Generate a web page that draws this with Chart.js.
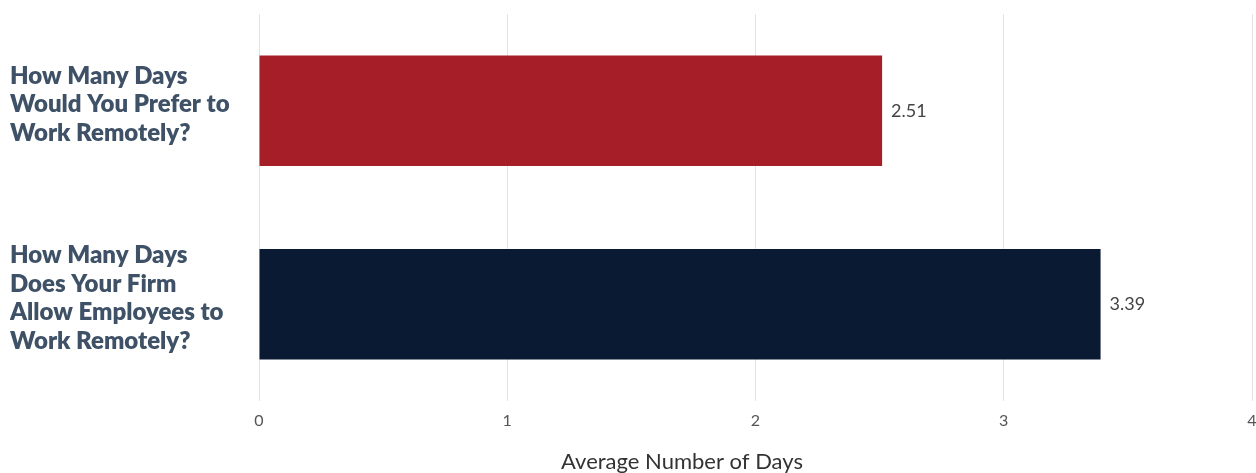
<!DOCTYPE html>
<html>
<head>
<meta charset="utf-8">
<script src="https://cdn.jsdelivr.net/npm/chart.js@4/dist/chart.umd.min.js"></script>
<style>
  html, body { margin: 0; padding: 0; background: #fff; overflow: hidden; }
  #wrap { position: relative; width: 1256px; height: 473px; }
</style>
</head>
<body>
<div id="wrap"><canvas id="daysChart"></canvas></div>
<script>
const questions = [
  ['How Many Days', 'Would You Prefer to', 'Work Remotely?'],
  ['How Many Days', 'Does Your Firm', 'Allow Employees to', 'Work Remotely?']
];
const avgDays = [2.51, 3.39];
const barColors = ['#a61e28', '#0b1a33'];
const xTicks = [0, 1, 2, 3, 4];
const xTitle = 'Average Number of Days';

// bar values past the bar ends, plus the x axis caption under the ticks
const valueLabels = {
  id: 'valueLabels',
  afterDatasetsDraw(chart) {
    const { ctx } = chart;
    const meta = chart.getDatasetMeta(0);
    ctx.save();
    ctx.font = '18px Lato';
    ctx.fillStyle = '#444';
    ctx.textAlign = 'left';
    ctx.textBaseline = 'middle';
    meta.data.forEach((bar, i) => {
      ctx.fillText(avgDays[i].toFixed(2), bar.x + 9, bar.y);
    });
    ctx.font = '22px Lato';
    ctx.fillStyle = '#333';
    ctx.textAlign = 'center';
    ctx.fillText(xTitle, 682, chart.height - 11);
    ctx.restore();
  }
};

new Chart(document.getElementById('daysChart'), {
  type: 'bar',
  data: {
    labels: questions,
    datasets: [{
      data: avgDays,
      backgroundColor: barColors,
      categoryPercentage: 1,
      barPercentage: 0.57
    }]
  },
  options: {
    indexAxis: 'y',
    responsive: true,
    maintainAspectRatio: false,
    animation: false,
    layout: { padding: { top: 14, left: 10, right: 4, bottom: 0 } },
    plugins: {
      legend: { display: false },
      tooltip: { enabled: false }
    },
    scales: {
      x: {
        min: xTicks[0],
        max: xTicks[xTicks.length - 1],
        afterBuildTicks(axis) { axis.ticks = xTicks.map((v) => ({ value: v })); },
        grid: { color: '#e3e3e3', drawTicks: false },
        border: { display: false },
        ticks: { color: '#555', font: { family: 'Lato', size: 16 }, padding: 10 },
        afterFit(axis) {
          axis.height = 72;
          axis.paddingLeft = 0;
          axis.paddingRight = 0;
        }
      },
      y: {
        grid: { display: false },
        border: { display: false },
        ticks: {
          crossAlign: 'far',
          color: '#3e5167',
          labelOffset: -6,
          font: { family: 'Lato', size: 24, weight: 800, lineHeight: 1.2 }
        },
        afterFit(axis) {
          axis.width = 249;
          axis.paddingTop = 0;
          axis.paddingBottom = 0;
        }
      }
    }
  },
  plugins: [valueLabels]
});
</script>
</body>
</html>
